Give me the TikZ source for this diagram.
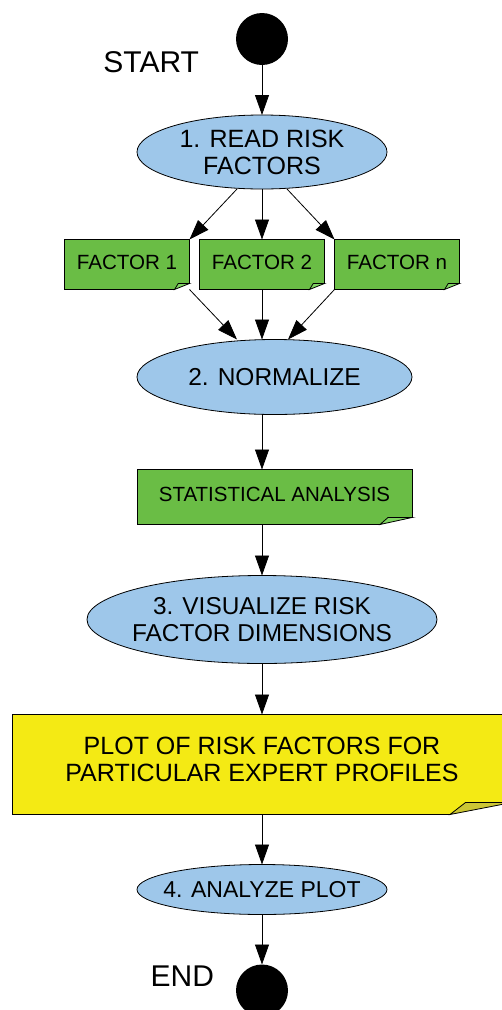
\documentclass[tikz,border=0pt]{standalone}
\usepackage{fontspec}
\setmainfont{Liberation Sans}
\usepackage{xcolor}
\usepackage{tikz}
\usetikzlibrary{shapes.geometric,positioning,arrows.meta}

\definecolor{procblue}{RGB}{158,199,234}
\definecolor{notegreen}{RGB}{106,189,69}
\definecolor{foldgreen}{RGB}{128,212,98}
\definecolor{noteyellow}{RGB}{244,234,20}
\definecolor{foldyellow}{RGB}{204,198,52}

\newcommand{\fsize}[1]{\fontsize{#1}{27pt}\selectfont}
% cut the lower right corner of a note and draw the fold
\newcommand{\dogear}[4]{%
	\fill[white] ([xshift=-#2]#1.south east) -- ([shift={(-#2,-1pt)}]#1.south east) -- ([shift={(1pt,-1pt)}]#1.south east) -- ([shift={(1pt,#3)}]#1.south east) -- ([yshift=#3]#1.south east) -- cycle;
	\draw[fill=#4] ([xshift=-#2]#1.south east) -- ([shift={(-0.75*#2,#3)}]#1.south east) -- ([yshift=#3]#1.south east) -- cycle;
}

\begin{document}
\begin{tikzpicture}[>={Triangle[length=20pt,width=14pt]}, line width=0.8pt, outer sep=0pt, node distance=50pt,
		terminal/.style={circle, fill=black, minimum size=52pt, inner sep=0pt},
		tag/.style={inner sep=0pt, font=\fsize{30pt}},
		proc/.style={ellipse, draw, fill=procblue, inner xsep=-20pt, inner ysep=0pt, align=center},
		note/.style={rectangle, draw, fill=notegreen, inner sep=0pt, text depth=5pt, align=center},
		factor/.style={note, minimum width=125pt, minimum height=50pt, font=\fsize{20.6pt}},
		flow/.style={->}]
		\useasboundingbox (0,0) rectangle (502pt,-1010pt);

		\node[terminal] (start) at (262pt,-39pt) {};
		\node[tag, left=37pt of start, yshift=-23.5pt] (starttxt) {START};

		\node[proc, minimum width=250pt, minimum height=74pt, font=\fsize{25pt}, below=50pt of start] (read) {1. READ RISK\\FACTORS};

		\node[factor, below=50.5pt of read] (f2) {FACTOR 2};
		\node[factor, left=10pt of f2] (f1) {FACTOR 1};
		\node[factor, right=10pt of f2] (fn) {FACTOR n};

		\node[proc, minimum width=275pt, minimum height=75pt, font=\fsize{24.5pt}, below=50pt of f2, xshift=12.5pt] (norm) {2. NORMALIZE};
		\node[note, minimum width=275pt, minimum height=55pt, font=\fsize{20.5pt}, below=55pt of norm] (stat) {STATISTICAL ANALYSIS};

		\node[proc, minimum width=350pt, minimum height=88pt, font=\fsize{24.4pt}, below=51pt of stat, xshift=-12.5pt] (vis) {3. VISUALIZE RISK\\FACTOR DIMENSIONS};
		\node[note, fill=noteyellow, text depth=11pt, minimum width=500pt, minimum height=100pt, font=\fsize{25pt}, below=51pt of vis] (plot) {PLOT OF RISK FACTORS FOR\\PARTICULAR EXPERT PROFILES};

		\node[proc, minimum width=250pt, minimum height=50pt, font=\fsize{23pt}, below=50pt of plot] (analyze) {4. ANALYZE PLOT};
		\node[terminal, below=50pt of analyze] (stop) {};
		\node[tag, left=22pt of stop, yshift=14pt] (stoptxt) {END};

		% folded corners
		\dogear{f1}{15pt}{6pt}{foldgreen}
		\dogear{f2}{15pt}{6pt}{foldgreen}
		\dogear{fn}{15pt}{6pt}{foldgreen}
		\dogear{stat}{32pt}{7pt}{foldgreen}
		\dogear{plot}{62pt}{12pt}{foldyellow}

		\draw[flow] (start) -- (read);
		\draw[flow] ([xshift=-25pt]read.south) -- (f1.north east);
		\draw[flow] (read) -- (f2);
		\draw[flow] ([xshift=25pt]read.south) -- (fn.north west);

		\draw[flow] (f1.south east) -- ([xshift=-37.5pt]norm.north);
		\draw[flow] (f2) -- ([xshift=-12.5pt]norm.north);
		\draw[flow] (fn.south west) -- ([xshift=13.5pt]norm.north);

		\draw[flow] ([xshift=-12.5pt]norm.south) -- ([xshift=-12.5pt]stat.north);
		\draw[flow] ([xshift=-12.5pt]stat.south) -- (vis);
		\draw[flow] (vis) -- (plot);
		\draw[flow] (plot) -- (analyze);
		\draw[flow] (analyze) -- (stop);
	\end{tikzpicture}
\end{document}
